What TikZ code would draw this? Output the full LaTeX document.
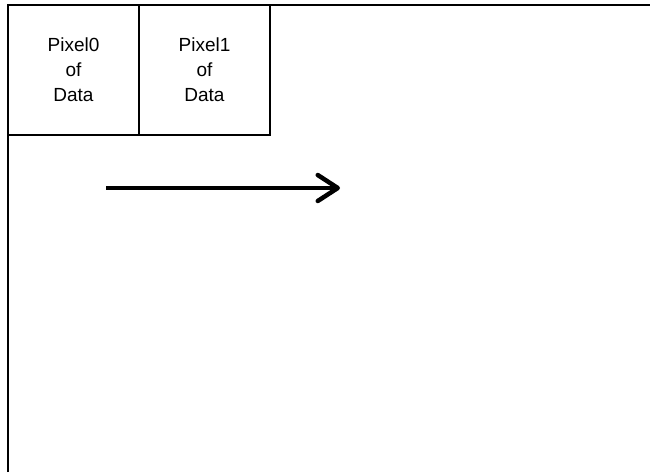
\documentclass[tikz,border=0pt]{standalone}
\usepackage{fontspec}
\setmainfont{Liberation Sans}
\usetikzlibrary{arrows.meta,positioning}

\begin{document}
\begin{tikzpicture}[
  x=1pt,y=-1pt,
  node distance=0pt,
  cell/.style={draw,line width=1.6pt,outer sep=0pt,align=center,minimum width=131pt,minimum height=130pt,font=\fontsize{19}{25}\selectfont},
  frame/.style={line width=1.6pt},
  arr/.style={-{Straight Barb[length=20pt,width=26pt,round]},line width=4.5pt}
]
\useasboundingbox (0,0) rectangle (650,472);
\coordinate (framebl) at (8,472);
\coordinate (frametr) at (650,5);
\node[cell,anchor=north west] (pix0) at (8,5) {Pixel0\\of\\Data};
\node[cell,right=of pix0] (pix1) {Pixel1\\of\\Data};
\draw[frame] (framebl) -- (pix0.north west) -- (frametr);
\coordinate (scanstart) at (106,188);
\coordinate (scanend) at (340,188);
\draw[arr] (scanstart) -- (scanend);
\end{tikzpicture}
\end{document}
